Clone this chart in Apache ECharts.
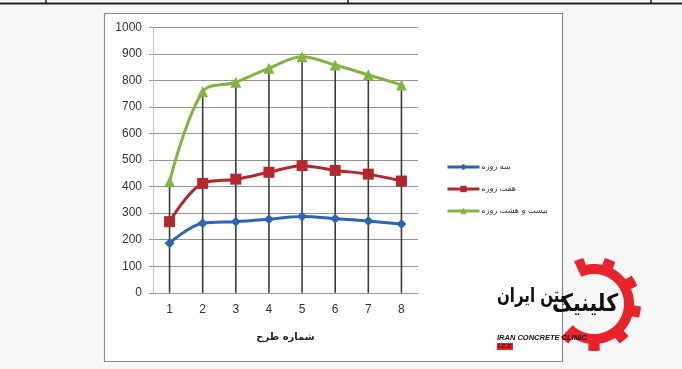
<!DOCTYPE html>
<html>
<head>
<meta charset="utf-8">
<script src="https://cdn.jsdelivr.net/npm/echarts@6/dist/echarts.min.js"></script>
<style>
  html, body { margin: 0; padding: 0; background: #f7f7f7; }
  #chart { width: 682px; height: 369px; }
</style>
</head>
<body>
<div id="chart"></div>
<script>
// Mix design numbers (x axis) and compressive strength at each age
const mixes = ['1', '2', '3', '4', '5', '6', '7', '8'];
const day3 = [187, 262, 268, 277, 287, 279, 270, 259];
const day7 = [268, 412, 428, 454, 479, 461, 447, 421];
const day28 = [418, 757, 793, 846, 889, 858, 821, 783];

const seriesNames = ['سه روزه', 'هفت روزه', 'بیست و هشت روزه'];
const yTicks = { min: 0, max: 1000, interval: 100 };
const xTitle = 'شماره طرح';

const faFont = '"DejaVu Sans", sans-serif';
const numFont = '"Liberation Sans", Arial, sans-serif';

// Company logo: a partial red gear ring open towards the left
function gearRing(cx, cy, rIn, rOut, rTooth, a0, a1) {
  const pts = [];
  const pitch = 40, half = 8, phase = 10;
  for (let d = a0; d <= a1; d += 1) {
    const m = (((d - phase) % pitch) + pitch) % pitch;
    const r = (m < half || m > pitch - half) ? rTooth : rOut;
    const t = d * Math.PI / 180;
    pts.push([cx + r * Math.cos(t), cy + r * Math.sin(t)]);
  }
  for (let d = a1; d >= a0; d -= 1) {
    const t = d * Math.PI / 180;
    pts.push([cx + rIn * Math.cos(t), cy + rIn * Math.sin(t)]);
  }
  return pts;
}

const chart = echarts.init(document.getElementById('chart'), null, { renderer: 'canvas' });

const lineBase = {
  type: 'line',
  smooth: 0.35,
  lineStyle: { width: 3 },
  z: 5
};

chart.setOption({
  backgroundColor: '#f7f7f7',
  animation: false,
  grid: { left: 153, right: 264, top: 27.3, bottom: 76.2, containLabel: false },
  legend: {
    data: seriesNames,
    orient: 'vertical',
    left: 441,
    top: 158,
    itemWidth: 32,
    itemHeight: 8,
    itemGap: 14,
    lineStyle: { width: 3 },
    textStyle: { fontFamily: faFont, fontSize: 8, color: '#333', padding: [0, 0, 0, -3] }
  },
  xAxis: {
    type: 'category',
    data: mixes,
    boundaryGap: true,
    name: xTitle,
    nameLocation: 'middle',
    nameGap: 40,
    nameTextStyle: { fontFamily: faFont, fontSize: 10, fontWeight: 'bold', color: '#222' },
    axisLine: { lineStyle: { color: '#9a9a9a', width: 1 } },
    axisTick: { show: false },
    axisLabel: { margin: 11, fontFamily: numFont, fontSize: 12, color: '#333' },
    splitLine: { show: false }
  },
  yAxis: {
    type: 'value',
    min: yTicks.min,
    max: yTicks.max,
    interval: yTicks.interval,
    axisLine: { show: true, lineStyle: { color: '#c4c4c4', width: 1 } },
    axisTick: { show: true, length: 4, lineStyle: { color: '#9a9a9a' } },
    axisLabel: { margin: 11, fontFamily: numFont, fontSize: 12, color: '#333', formatter: (v) => String(v) },
    splitLine: { lineStyle: { color: '#949494', width: 1 } }
  },
  series: [
    {
      // drop lines from the highest series down to the axis
      name: 'drop',
      type: 'bar',
      data: day28,
      barWidth: 1.6,
      silent: true,
      itemStyle: { color: '#3a3a3a' },
      z: 2
    },
    Object.assign({}, lineBase, {
      name: seriesNames[0],
      data: day3,
      symbol: 'diamond',
      symbolSize: 10,
      color: '#2e65b0',
      itemStyle: { color: '#2e65b0' },
      lineStyle: { width: 3, color: '#2e65b0' }
    }),
    Object.assign({}, lineBase, {
      name: seriesNames[1],
      data: day7,
      symbol: 'rect',
      symbolSize: 11,
      color: '#b3282d',
      itemStyle: { color: '#b3282d' },
      lineStyle: { width: 3, color: '#b3282d' }
    }),
    Object.assign({}, lineBase, {
      name: seriesNames[2],
      data: day28,
      symbol: 'triangle',
      symbolSize: 11,
      color: '#82b441',
      itemStyle: { color: '#82b441' },
      lineStyle: { width: 3, color: '#82b441' }
    })
  ],
  graphic: [
    // top table rule
    { type: 'line', shape: { x1: 0, y1: 3.5, x2: 682, y2: 3.5 }, style: { stroke: '#222', lineWidth: 2 }, z: -10 },
    { type: 'line', shape: { x1: 46, y1: 0, x2: 46, y2: 4 }, style: { stroke: '#222', lineWidth: 1.5 }, z: -10 },
    { type: 'line', shape: { x1: 348, y1: 0, x2: 348, y2: 4 }, style: { stroke: '#222', lineWidth: 1.5 }, z: -10 },
    { type: 'line', shape: { x1: 651, y1: 0, x2: 651, y2: 4 }, style: { stroke: '#222', lineWidth: 1.5 }, z: -10 },
    // chart frame
    { type: 'rect', shape: { x: 104.5, y: 13.5, width: 458, height: 348 }, style: { fill: '#ffffff', stroke: '#8a8a8a', lineWidth: 1.2 }, z: -20, silent: true },
    // logo
    { type: 'polygon', shape: { points: gearRing(594, 304, 30, 40, 47, -115, 135) }, style: { fill: '#e8232b' }, z: 50 },
    { type: 'text', x: 497, y: 287, scaleX: 0.75, style: { text: 'بتن ایران', font: 'bold 20px ' + faFont, fill: '#111' }, z: 52 },
    { type: 'text', x: 552, y: 293, scaleX: 0.85, style: { text: 'کلینیک', font: 'bold 24px ' + faFont, fill: '#111' }, z: 53 },
    { type: 'text', x: 497, y: 334, style: { text: 'IRAN CONCRETE CLINIC', font: 'italic bold 7.5px ' + numFont, fill: '#111' }, z: 52 },
    { type: 'rect', shape: { x: 497, y: 343, width: 16, height: 7 }, style: { fill: '#e8232b' }, z: 51 },
    { type: 'text', x: 498, y: 343.5, style: { text: 'I.C.C', font: 'italic bold 6px ' + numFont, fill: '#111' }, z: 52 }
  ]
});
</script>
</body>
</html>
